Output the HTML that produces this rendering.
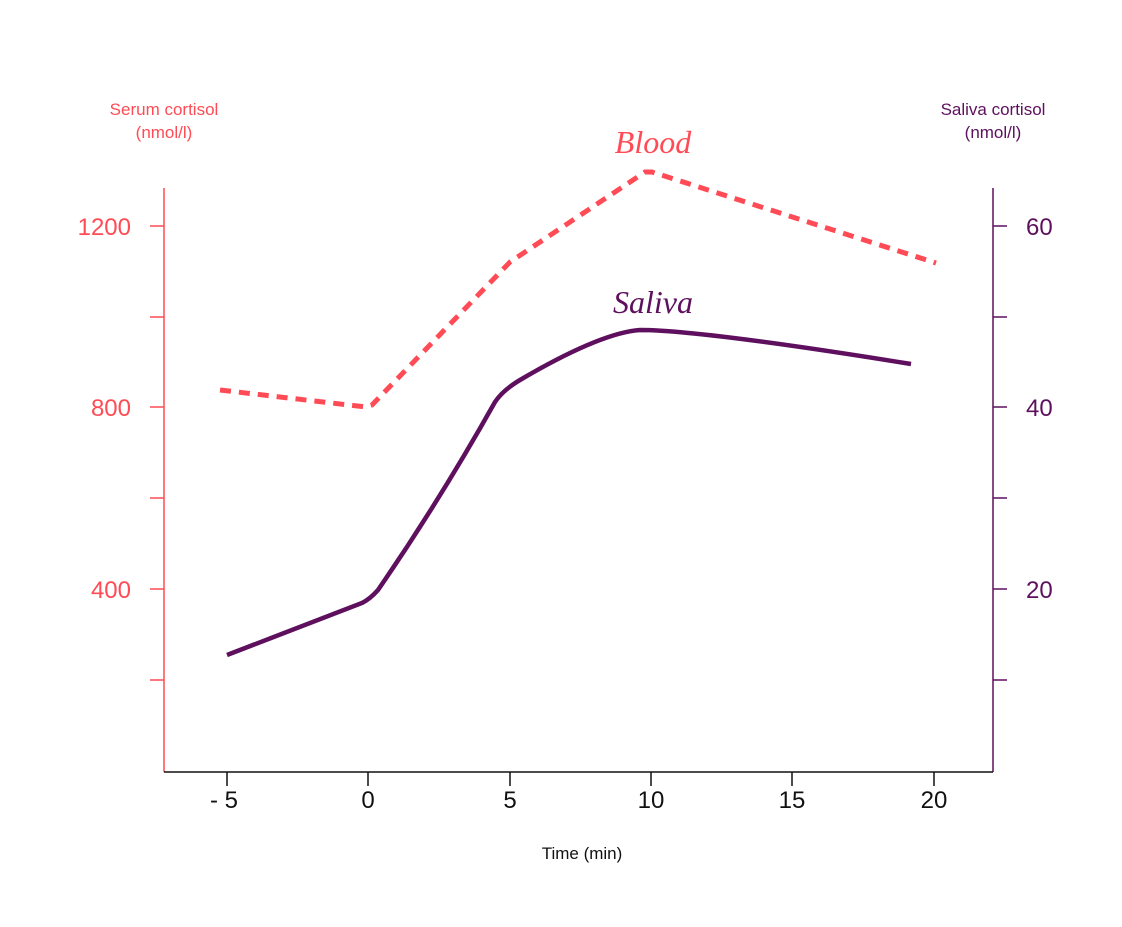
<!DOCTYPE html>
<html><head><meta charset="utf-8"><style>
html,body{margin:0;padding:0;background:#fff;}
svg{display:block;}
text{font-family:"Liberation Sans",sans-serif;}
text.serif{font-family:"Liberation Serif",serif;font-style:italic;}
</style></head><body>
<svg width="1122" height="927" viewBox="0 0 1122 927" xmlns="http://www.w3.org/2000/svg">
<rect width="1122" height="927" fill="#fff"/>
<line x1="164" y1="188" x2="164" y2="772" stroke="#ff4b55" stroke-width="1.5"/>
<line x1="993" y1="188" x2="993" y2="772" stroke="#5e0f5e" stroke-width="1.5"/>
<line x1="164" y1="772" x2="993" y2="772" stroke="#111" stroke-width="1.5"/>
<g stroke="#ff4b55" stroke-width="1.5">
<line x1="150" y1="226" x2="164" y2="226"/><line x1="150" y1="317" x2="164" y2="317"/>
<line x1="150" y1="407" x2="164" y2="407"/><line x1="150" y1="498" x2="164" y2="498"/>
<line x1="150" y1="589" x2="164" y2="589"/><line x1="150" y1="680" x2="164" y2="680"/>
</g>
<g stroke="#5e0f5e" stroke-width="1.5">
<line x1="993" y1="226" x2="1007" y2="226"/><line x1="993" y1="317" x2="1007" y2="317"/>
<line x1="993" y1="407" x2="1007" y2="407"/><line x1="993" y1="498" x2="1007" y2="498"/>
<line x1="993" y1="589" x2="1007" y2="589"/><line x1="993" y1="680" x2="1007" y2="680"/>
</g>
<g stroke="#111" stroke-width="1.5">
<line x1="227" y1="772" x2="227" y2="786"/><line x1="368" y1="772" x2="368" y2="786"/>
<line x1="510" y1="772" x2="510" y2="786"/><line x1="651" y1="772" x2="651" y2="786"/>
<line x1="792" y1="772" x2="792" y2="786"/><line x1="934" y1="772" x2="934" y2="786"/>
</g>
<g fill="#ff4b55" font-size="24" text-anchor="end">
<text x="131" y="235">1200</text><text x="131" y="416">800</text><text x="131" y="598">400</text>
</g>
<g fill="#5e0f5e" font-size="24" text-anchor="start">
<text x="1026" y="235">60</text><text x="1026" y="416">40</text><text x="1026" y="598">20</text>
</g>
<g fill="#111" font-size="24" text-anchor="middle">
<text x="224" y="808">- 5</text><text x="368" y="808">0</text><text x="510" y="808">5</text>
<text x="651" y="808">10</text><text x="792" y="808">15</text><text x="934" y="808">20</text>
</g>
<text x="582" y="859" font-size="17" text-anchor="middle" fill="#111">Time (min)</text>
<g fill="#ff4b55" font-size="17" text-anchor="middle">
<text x="164" y="115">Serum cortisol</text><text x="164" y="138">(nmol/l)</text>
</g>
<g fill="#5e0f5e" font-size="17" text-anchor="middle">
<text x="993" y="115">Saliva cortisol</text><text x="993" y="138">(nmol/l)</text>
</g>
<text class="serif" x="653" y="153" font-size="32" fill="#ff4b55" text-anchor="middle">Blood</text>
<text class="serif" x="653" y="313" font-size="32" fill="#5e0f5e" text-anchor="middle">Saliva</text>
<polyline points="220,390 366,407 372,405 510,262 645,172 652,172 936,263" fill="none" stroke="#ff4b55" stroke-width="5" stroke-dasharray="11,8"/>
<path d="M227,655 L362,603 Q370,599 378,590 Q440,500 495,402 Q503,390 520,380 Q600,333 640,330 Q700,330 911,364" fill="none" stroke="#5e0f5e" stroke-width="4.5"/>
</svg>
</body></html>
